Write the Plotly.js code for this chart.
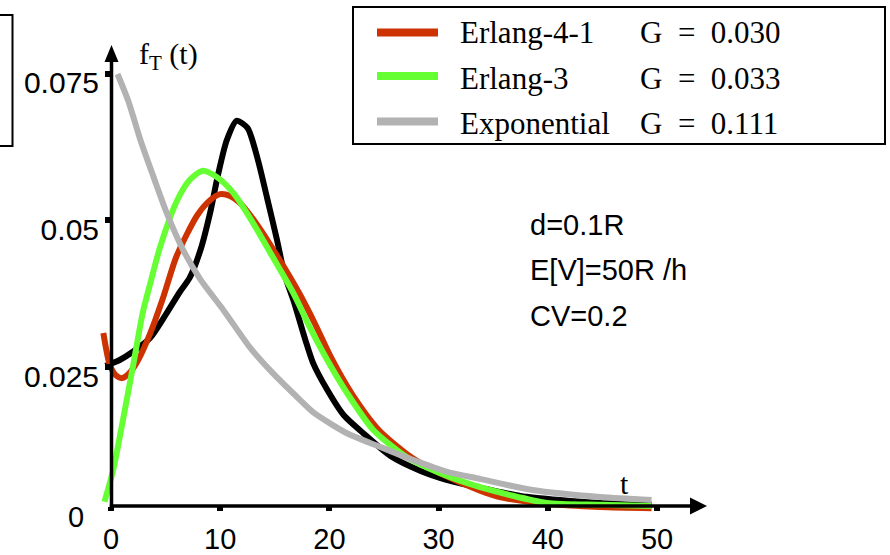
<!DOCTYPE html>
<html>
<head>
<meta charset="utf-8">
<script src="https://cdn.plot.ly/plotly-3.0.1.min.js"></script>
<style>html,body{margin:0;padding:0;background:#fff;}#chart{width:890px;height:555px;}</style>
</head>
<body>
<div id="chart"></div>
<script>
// ---- data ----
const blackT = [-0.5,0.8,2.0,3.6,5.1,6.3,7.2,8.2,9.1,9.8,10.6,11.5,12.5,13.4,14.3,15.2,15.9,16.7,17.8,18.5,19.8,21.3,23.1,25.6,28.3,30.8,33.8,37.5,41.1,44.8,49.5];
const blackF = [0.0252,0.0262,0.0276,0.0300,0.0342,0.0378,0.0402,0.0450,0.0515,0.0578,0.0637,0.0670,0.0658,0.0607,0.0538,0.0467,0.0407,0.0364,0.0296,0.0257,0.0211,0.0168,0.0137,0.0098,0.0073,0.0057,0.0044,0.0030,0.0023,0.0018,0.0015];

const erl41T = [-0.7,-0.1,0.5,1.0,1.6,2.4,3.6,4.8,6.0,7.9,9.1,10.0,10.9,11.8,13.6,15.4,17.2,18.7,20.1,22.0,24.5,27.5,30.1,33.8,35.6,40.2,44.8,49.5];
const erl41F = [0.0308,0.0253,0.0235,0.0231,0.0238,0.0259,0.0308,0.0370,0.0439,0.0509,0.0535,0.0545,0.0542,0.0530,0.0487,0.0434,0.0377,0.0323,0.0268,0.0206,0.0143,0.0096,0.0069,0.0039,0.0028,0.0016,0.0011,0.0009];

const erl3T = [-0.6,0.2,1.1,2.0,2.9,3.6,4.5,6.0,7.2,8.4,9.7,11.2,13.0,14.8,16.7,18.2,19.8,21.6,24.0,27.1,30.1,33.8,39.9,44.8,49.5];
const erl3F = [0.0020,0.0074,0.0160,0.0250,0.0342,0.0393,0.0455,0.0532,0.0569,0.0585,0.0574,0.0547,0.0496,0.0438,0.0376,0.0318,0.0262,0.0206,0.0143,0.0096,0.0069,0.0045,0.0018,0.0015,0.0013];

const expoT = [0.6,1.6,2.7,3.9,5.1,6.6,8.2,10.3,12.7,14.8,17.3,18.5,21.6,24.6,27.7,30.8,33.8,38.6,44.8,49.5];
const expoF = [0.0750,0.0703,0.0637,0.0574,0.0513,0.0450,0.0399,0.0347,0.0284,0.0240,0.0194,0.0173,0.0137,0.0114,0.0091,0.0071,0.0059,0.0040,0.0028,0.0023];

const seriesNames = ['Erlang-4-1','Erlang-3','Exponential'];
const gValues = ['G\u2002=\u20020.030','G\u2002=\u20020.033','G\u2002=\u20020.111'];
const xTickVals = [0,10,20,30,40,50];
const yTickVals = [0.025,0.05,0.075];
const yTickText = ['0.025','0.05','0.075'];
const paramLines = ['d=0.1R','E[V]=50R /h','CV=0.2'];

// ---- layout geometry (pixels) ----
const W = 890, H = 555;
const L = 95, R = 715, T = 40, B = 512;
const pw = R - L, ph = B - T;
const xRange = [-1.465, 55.31];
const yRange = [0.000256, 0.0808];
const px = v => (v - L) / pw;
const py = v => (B - v) / ph;

const colors = {black:'#000000', red:'#CC3300', green:'#66FF33', grey:'#B2B2B2'};
const lw = 6;

const traces = [
  {x: blackT, y: blackF, name: 'f_T(t)', c: colors.black},
  {x: erl41T, y: erl41F, name: seriesNames[0], c: colors.red},
  {x: erl3T, y: erl3F, name: seriesNames[1], c: colors.green},
  {x: expoT, y: expoF, name: seriesNames[2], c: colors.grey}
].map(t => ({type:'scatter', mode:'lines', x:t.x, y:t.y, name:t.name, showlegend:false,
  hoverinfo:'skip', line:{color:t.c, width:lw, shape:'spline', smoothing:0.7}}));

const sans = 'Liberation Sans, Arial, sans-serif';
const serif = 'Liberation Serif, Times New Roman, serif';

const P = (x, y) => px(x).toFixed(5) + ',' + py(y).toFixed(5);
const shapes = [
  // legend box
  {type:'rect', xref:'paper', yref:'paper', x0:px(353), x1:px(885), y0:py(7), y1:py(144), line:{color:'#000', width:2}},
  // partial box at left edge
  {type:'rect', xref:'paper', yref:'paper', x0:px(-5), x1:px(12.5), y0:py(15), y1:py(146), line:{color:'#000', width:2}},
  // x axis line + arrowhead
  {type:'line', xref:'paper', yref:'paper', x0:px(109.8), x1:px(692), y0:py(506), y1:py(506), line:{color:'#000', width:3.5}},
  {type:'path', xref:'paper', yref:'paper', path:'M' + P(690,497.5) + 'L' + P(707,506) + 'L' + P(690,514.5) + 'Z',
    fillcolor:'#000', line:{color:'#000', width:0}},
  // y axis line + arrowhead
  {type:'line', xref:'paper', yref:'paper', x0:px(111.5), x1:px(111.5), y0:py(507.5), y1:py(60), line:{color:'#000', width:3.5}},
  {type:'path', xref:'paper', yref:'paper', path:'M' + P(104.5,62) + 'L' + P(111.5,45) + 'L' + P(118.5,62) + 'Z',
    fillcolor:'#000', line:{color:'#000', width:0}}
];
const legendColors = [colors.red, colors.green, colors.grey];
const rowY = [32.5, 76, 121.5];
const textY = [33, 78, 124];
const annotations = [];
for (let i = 0; i < 3; i++) {
  shapes.push({type:'line', xref:'paper', yref:'paper', x0:px(377), x1:px(438), y0:py(rowY[i]), y1:py(rowY[i]),
    line:{color:legendColors[i], width:8}});
  annotations.push({xref:'paper', yref:'paper', x:px(458), y:py(textY[i]), xanchor:'left', yanchor:'middle',
    text:seriesNames[i], showarrow:false, font:{family:serif, size:31, color:'#000'}});
  annotations.push({xref:'paper', yref:'paper', x:px(638), y:py(textY[i]), xanchor:'left', yanchor:'middle',
    text:gValues[i], showarrow:false, font:{family:serif, size:31, color:'#000'}});
}
const paramY = [225, 270, 316];
for (let i = 0; i < 3; i++) {
  annotations.push({xref:'paper', yref:'paper', x:px(528), y:py(paramY[i]), xanchor:'left', yanchor:'middle',
    text:paramLines[i], showarrow:false, font:{family:sans, size:29, color:'#000'}});
}
// axis titles
annotations.push({xref:'paper', yref:'paper', x:px(137), y:py(56), xanchor:'left', yanchor:'middle',
  text:'f<sub>T</sub> (t)', showarrow:false, font:{family:serif, size:30, color:'#000'}});
annotations.push({xref:'paper', yref:'paper', x:px(624), y:py(483), xanchor:'center', yanchor:'middle',
  text:'t', showarrow:false, font:{family:serif, size:30, color:'#000'}});
// y zero label
annotations.push({xref:'paper', yref:'paper', x:px(86), y:py(517), xanchor:'right', yanchor:'middle',
  text:'0', showarrow:false, font:{family:sans, size:29, color:'#000'}});

const layout = {
  width: W, height: H,
  margin: {l:L, r:W-R, t:T, b:H-B, pad:0},
  paper_bgcolor:'#fff', plot_bgcolor:'rgba(0,0,0,0)',
  showlegend:false,
  xaxis: {range:xRange, anchor:'free', position:py(506), showline:false, zeroline:false, showgrid:false,
    tickmode:'array', tickvals:xTickVals, ticks:'outside', ticklen:4, tickwidth:6, tickcolor:'#000',
    ticklabelstandoff:3, tickfont:{family:sans, size:29, color:'#000'}},
  yaxis: {range:yRange, anchor:'free', position:px(111), showline:false, zeroline:false, showgrid:false,
    tickmode:'array', tickvals:yTickVals, ticktext:yTickText, ticks:'outside', ticklen:6, tickwidth:6, tickcolor:'#000',
    ticklabelshift:9, tickfont:{family:sans, size:30, color:'#000'}},
  shapes: shapes,
  annotations: annotations
};

Plotly.newPlot('chart', traces, layout, {displayModeBar:false, staticPlot:true});
</script>
</body>
</html>
